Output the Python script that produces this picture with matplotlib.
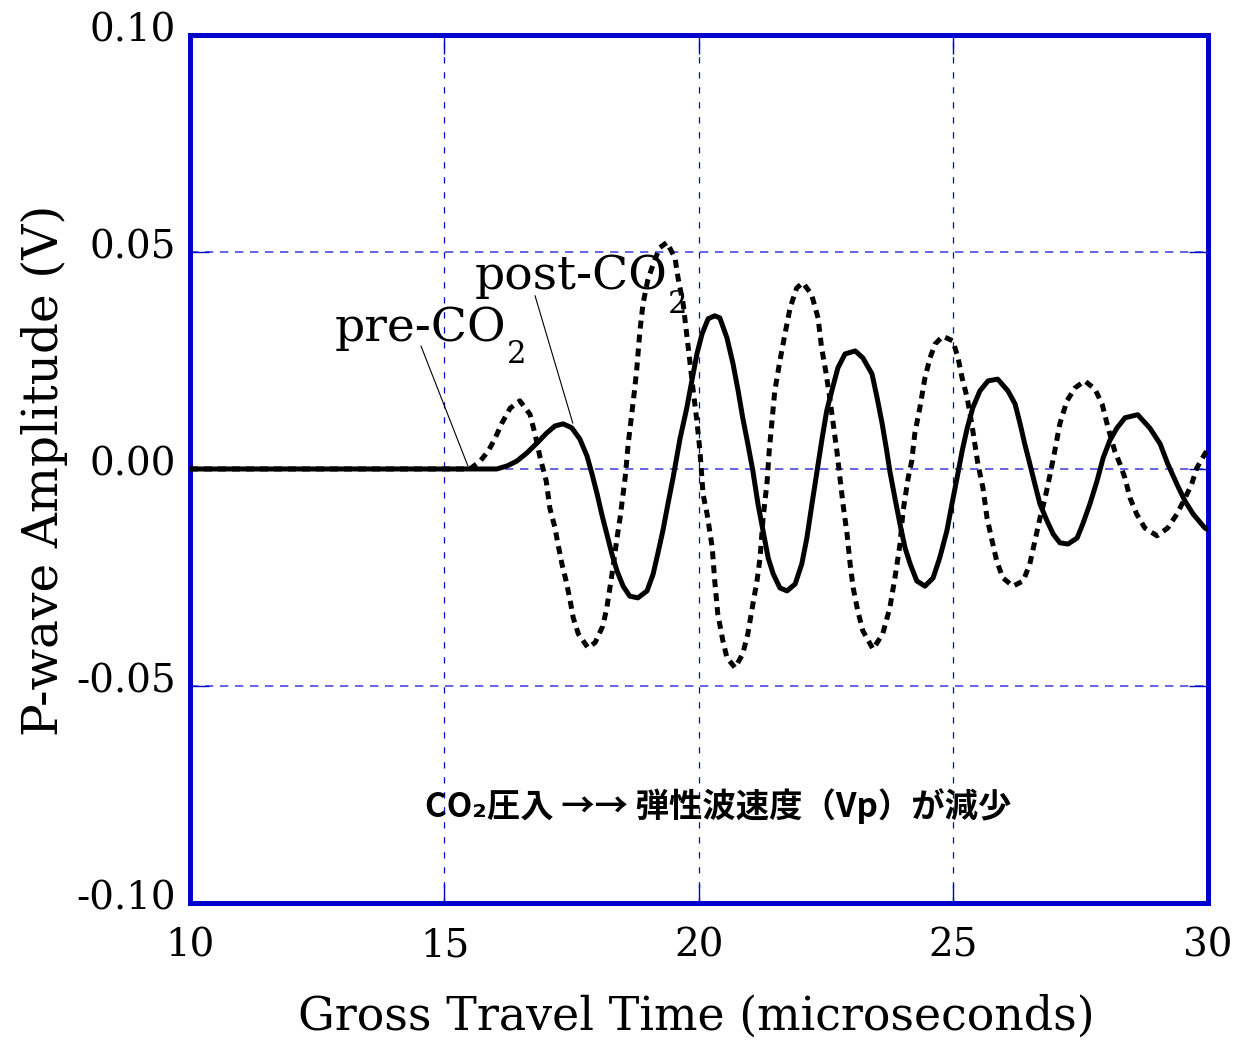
import matplotlib
matplotlib.use("Agg")
import matplotlib.pyplot as plt
import matplotlib.transforms as mtransforms

# pre-CO2 waveform (dashed)
t_pre = [10.0, 12.0, 14.0, 15.0, 15.5, 15.7, 15.86, 16.0, 16.13, 16.29, 16.48, 16.68, 16.78, 16.88,
         17.0, 17.07, 17.17, 17.23, 17.31, 17.39, 17.47, 17.53, 17.63, 17.82, 17.96, 18.11, 18.19,
         18.25, 18.31, 18.39, 18.45, 18.5, 18.55, 18.58, 18.61, 18.68, 18.74, 18.78, 18.84, 18.9,
         18.99, 19.1, 19.23, 19.37, 19.53, 19.59, 19.69, 19.76, 19.82, 19.88, 19.96, 20.02, 20.08,
         20.16, 20.26, 20.31, 20.37, 20.47, 20.55, 20.71, 20.86, 20.96, 21.06, 21.14, 21.2, 21.26,
         21.34, 21.38, 21.43, 21.49, 21.59, 21.69, 21.79, 21.92, 22.04, 22.21, 22.34, 22.41, 22.49,
         22.57, 22.63, 22.71, 22.77, 22.83, 22.91, 22.97, 23.03, 23.12, 23.22, 23.42, 23.61, 23.75,
         23.85, 23.95, 24.01, 24.11, 24.18, 24.24, 24.34, 24.44, 24.54, 24.64, 24.79, 24.99, 25.09,
         25.17, 25.27, 25.36, 25.42, 25.48, 25.58, 25.66, 25.76, 25.85, 25.97, 26.17, 26.37, 26.5,
         26.6, 26.7, 26.8, 26.9, 26.99, 27.09, 27.23, 27.39, 27.58, 27.78, 27.92, 28.04, 28.17,
         28.27, 28.37, 28.47, 28.6, 28.76, 29.0, 29.21, 29.39, 29.55, 29.68, 29.78, 29.94, 30.0]
a_pre = [0.0, 0.0, 0.0, 0.0, 0.0, 0.0018, 0.0041, 0.0072, 0.0106, 0.014, 0.0157, 0.0126, 0.008, 0.0026,
         -0.0028, -0.009, -0.0135, -0.0173, -0.022, -0.0258, -0.0304, -0.0343, -0.038, -0.0412, -0.040,
         -0.0362, -0.032, -0.0274, -0.0228, -0.0159, -0.0113, -0.0067, -0.002, 0.0018, 0.0058, 0.0127,
         0.0187, 0.0233, 0.0318, 0.038, 0.0433, 0.0472, 0.051, 0.0522, 0.0486, 0.044, 0.038, 0.031,
         0.0249, 0.0187, 0.011, 0.0041, -0.0058, -0.0104, -0.018, -0.0258, -0.0334, -0.0396, -0.0435,
         -0.0458, -0.0426, -0.038, -0.0311, -0.0258, -0.0205, -0.0113, -0.0028, 0.0041, 0.0104, 0.018,
         0.0249, 0.0311, 0.0371, 0.0417, 0.0429, 0.0403, 0.0348, 0.0279, 0.0226, 0.0164, 0.0111, 0.0041,
         -0.0021, -0.0081, -0.015, -0.0219, -0.0274, -0.0327, -0.0373, -0.0415, -0.038, -0.032, -0.0251,
         -0.0173, -0.0097, -0.0021, 0.0018, 0.0081, 0.0141, 0.021, 0.0256, 0.0288, 0.0306, 0.0295, 0.0256,
         0.021, 0.0164, 0.0104, 0.0058, 0.0012, -0.0044, -0.0113, -0.0166, -0.0212, -0.0251, -0.027,
         -0.0258, -0.0219, -0.0166, -0.0113, -0.0067, -0.0012, 0.0041, 0.0104, 0.0157, 0.0187, 0.0203,
         0.0184, 0.015, 0.0094, 0.0041, 0.0012, -0.0021, -0.0067, -0.0104, -0.0136, -0.0154, -0.0136,
         -0.0104, -0.0067, -0.0035, 0.0002, 0.0035, 0.0045]

# post-CO2 waveform (solid)
t_post = [10.0, 12.0, 14.0, 15.0, 16.03, 16.23, 16.42, 16.62, 16.82, 17.01, 17.17, 17.33, 17.5, 17.66,
          17.8, 17.9, 18.0, 18.09, 18.19, 18.29, 18.39, 18.51, 18.64, 18.8, 18.98, 19.1, 19.19, 19.29,
          19.39, 19.49, 19.63, 19.76, 19.86, 19.96, 20.06, 20.18, 20.31, 20.41, 20.55, 20.67, 20.77,
          20.86, 20.96, 21.06, 21.16, 21.26, 21.36, 21.46, 21.59, 21.73, 21.89, 22.02, 22.12, 22.22,
          22.32, 22.42, 22.51, 22.61, 22.73, 22.87, 23.07, 23.22, 23.4, 23.5, 23.6, 23.69, 23.75, 23.85,
          23.95, 24.05, 24.15, 24.28, 24.44, 24.6, 24.73, 24.87, 24.97, 25.07, 25.17, 25.27, 25.38,
          25.52, 25.68, 25.87, 26.07, 26.21, 26.31, 26.4, 26.5, 26.6, 26.7, 26.84, 26.96, 27.09, 27.25,
          27.43, 27.54, 27.68, 27.82, 27.94, 28.07, 28.21, 28.37, 28.62, 28.86, 29.06, 29.21, 29.39,
          29.55, 29.71, 29.94, 30.0]
a_post = [0.0, 0.0, 0.0, 0.0, 0.0, 0.0007, 0.0018, 0.0037, 0.006, 0.0083, 0.0099, 0.0104, 0.0095, 0.0069,
          0.003, -0.0012, -0.0058, -0.0104, -0.015, -0.0196, -0.0235, -0.027, -0.0293, -0.0297, -0.0281,
          -0.0242, -0.0196, -0.0143, -0.0081, -0.0021, 0.0071, 0.014, 0.0203, 0.0265, 0.0311, 0.0346,
          0.0353, 0.0348, 0.0302, 0.0242, 0.018, 0.0118, 0.0058, -0.0005, -0.0081, -0.0143, -0.0205,
          -0.0242, -0.0274, -0.0281, -0.0265, -0.0219, -0.0159, -0.0081, -0.0005, 0.0071, 0.0134, 0.018,
          0.0233, 0.0265, 0.0272, 0.0256, 0.0219, 0.0164, 0.0104, 0.0041, -0.0005, -0.0067, -0.0127,
          -0.0182, -0.0219, -0.0258, -0.027, -0.0251, -0.0205, -0.0143, -0.0081, -0.0021, 0.0041, 0.0094,
          0.0141, 0.018, 0.0203, 0.0207, 0.018, 0.015, 0.0104, 0.0058, 0.0012, -0.0035, -0.0081, -0.012,
          -0.015, -0.017, -0.0173, -0.0159, -0.0127, -0.0081, -0.0028, 0.0025, 0.0065, 0.0094, 0.0118,
          0.0125, 0.0094, 0.0058, 0.0012, -0.0035, -0.0074, -0.0104, -0.0136, -0.014]

x_ticks = [10, 15, 20, 25, 30]
y_ticks = [-0.10, -0.05, 0.00, 0.05, 0.10]

blue = '#0000CC'
grid_blue = '#4a4ae0'
serif = 'DejaVu Serif'

fig = plt.figure(figsize=(12.36, 10.41), dpi=100)
ax = fig.add_axes([0.1537, 0.1326, 0.8236, 0.8338])

# grid
for gy in [-0.05, 0.0, 0.05]:
    ax.axhline(gy, color=grid_blue, lw=1.2, ls=(0, (5, 4)), zorder=1)
for gx in [15, 20, 25]:
    ax.axvline(gx, color=blue, lw=0.9, ls=(0, (5, 7)), zorder=1)

ax.plot(t_pre, a_pre, color='black', lw=3.6, ls=(0, (1.6, 1.2)), zorder=3)
ax.plot(t_post, a_post, color='black', lw=3.6, ls='-', zorder=4)

ax.set_xlim(10, 30)
ax.set_ylim(-0.10, 0.10)
ax.set_xticks(x_ticks)
ax.set_yticks(y_ticks)
ax.set_xticklabels([str(v) for v in x_ticks])
ax.set_yticklabels(['%.2f' % v for v in y_ticks])
ax.tick_params(direction='in', length=14, width=1, color=blue, top=True, right=True,
               labelsize=28)
ax.tick_params(axis='x', pad=18)
ax.tick_params(axis='y', pad=10)
shift_up = mtransforms.ScaledTranslation(0, 6 / 72, fig.dpi_scale_trans)
for lab in ax.get_yticklabels():
    lab.set_family(serif)
    lab.set_transform(lab.get_transform() + shift_up)
for lab in ax.get_xticklabels():
    lab.set_family(serif)
for s in ax.spines.values():
    s.set_color(blue)
    s.set_linewidth(3.6)

ax.set_xlabel('Gross Travel Time (microseconds)', fontsize=33, family=serif)
ax.xaxis.set_label_coords(0.497, -0.105)
ax.set_ylabel('P-wave Amplitude (V)', fontsize=35, family=serif)
ax.yaxis.set_label_coords(-0.12, 0.498)

# curve labels with leader lines
ax.text(12.85, 0.0295, 'pre-CO', fontsize=34, family=serif, va='baseline', ha='left')
ax.text(16.22, 0.0244, '2', fontsize=22, family=serif, va='baseline', ha='left')
ax.plot([14.54, 15.46], [0.0283, 0.0007], color='black', lw=0.8, zorder=5)
ax.text(15.6, 0.0415, 'post-CO', fontsize=34, family=serif, va='baseline', ha='left')
ax.text(19.38, 0.036, '2', fontsize=22, family=serif, va='baseline', ha='left')
ax.plot([16.78, 17.52], [0.0399, 0.0106], color='black', lw=0.8, zorder=5)

ax.text(20.37, -0.0776, 'CO₂圧入 →→ 弾性波速度（Vp）が減少', fontsize=24, fontweight='bold',
        family=['Noto Sans CJK JP', 'DejaVu Sans'], ha='center', va='center')

fig.savefig('out.png', dpi=100)
